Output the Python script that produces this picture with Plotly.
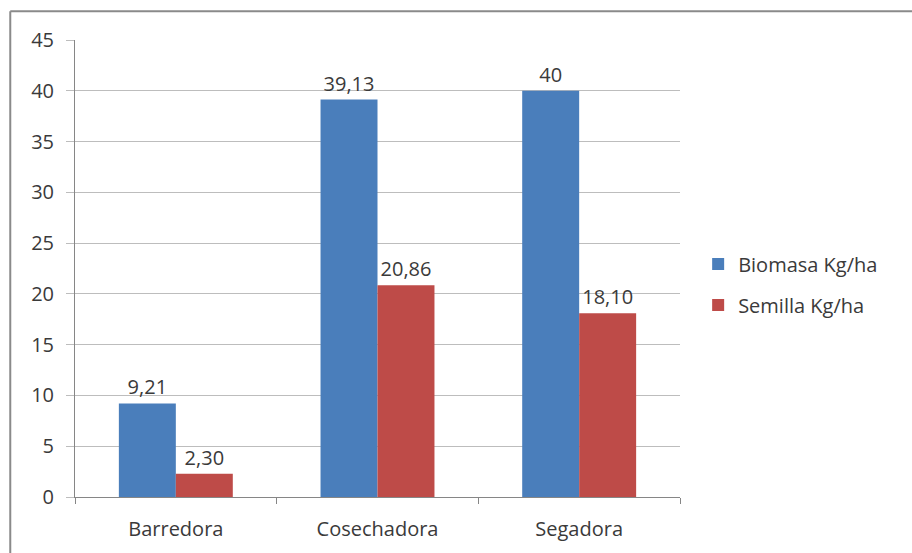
import plotly.graph_objects as go

categories = ["Barredora", "Cosechadora", "Segadora"]
biomasa = [9.21, 39.13, 40]
semilla = [2.30, 20.86, 18.10]
biomasa_labels = ["9,21", "39,13", "40"]
semilla_labels = ["2,30", "20,86", "18,10"]
y_ticks = [0, 5, 10, 15, 20, 25, 30, 35, 40, 45]

FONT = "Open Sans, Liberation Sans, sans-serif"
TXT = "#3a3a3a"
FS = 20

fig = go.Figure()
fig.add_trace(go.Bar(
    x=categories, y=biomasa, name="Biomasa Kg/ha",
    marker=dict(color="#4a7ebb", line=dict(width=0)),
    text=biomasa_labels, textposition="outside", cliponaxis=False,
    textfont=dict(size=FS, color=TXT, family=FONT),
    legendgroup="a",
))
fig.add_trace(go.Bar(
    x=categories, y=semilla, name="Semilla Kg/ha",
    marker=dict(color="#be4b48", line=dict(width=0)),
    text=semilla_labels, textposition="outside", cliponaxis=False,
    textfont=dict(size=FS, color=TXT, family=FONT),
    legendgroup="b",
))

fig.update_layout(
    width=912, height=553,
    margin=dict(l=75, r=232, t=40, b=56),
    paper_bgcolor="white", plot_bgcolor="white",
    barmode="group", bargap=0.435, bargroupgap=0,
    font=dict(family=FONT, size=FS, color=TXT),
    showlegend=True,
    legend=dict(x=1.03, y=0.465, xanchor="left", yanchor="middle",
                font=dict(size=FS, color=TXT, family=FONT),
                tracegroupgap=12, traceorder="grouped", itemwidth=30),
    xaxis=dict(
        showgrid=False, showline=True, linecolor="#868686", linewidth=1,
        ticks="outside", tickson="boundaries", ticklen=6, tickcolor="#868686",
        tickfont=dict(size=FS, color=TXT, family=FONT), ticklabelstandoff=14,
        automargin=False,
    ),
    yaxis=dict(
        range=[0, 45], tickvals=y_ticks, showgrid=True, gridcolor="#bdbdbd",
        gridwidth=1, showline=True, linecolor="#868686", linewidth=1,
        ticks="outside", ticklen=8, tickcolor="#bdbdbd", zeroline=False,
        tickfont=dict(size=FS, color=TXT, family=FONT), ticklabelstandoff=8,
        automargin=False,
    ),
    shapes=[
        dict(type="line", xref="paper", yref="paper",
             x0=-0.107, x1=1.4, y0=1.063, y1=1.063,
             line=dict(color="#8a8a8a", width=2)),
        dict(type="line", xref="paper", yref="paper",
             x0=-0.107, x1=-0.107, y0=1.063, y1=-0.2,
             line=dict(color="#8a8a8a", width=2)),
    ],
)

fig.write_html("out.html")
